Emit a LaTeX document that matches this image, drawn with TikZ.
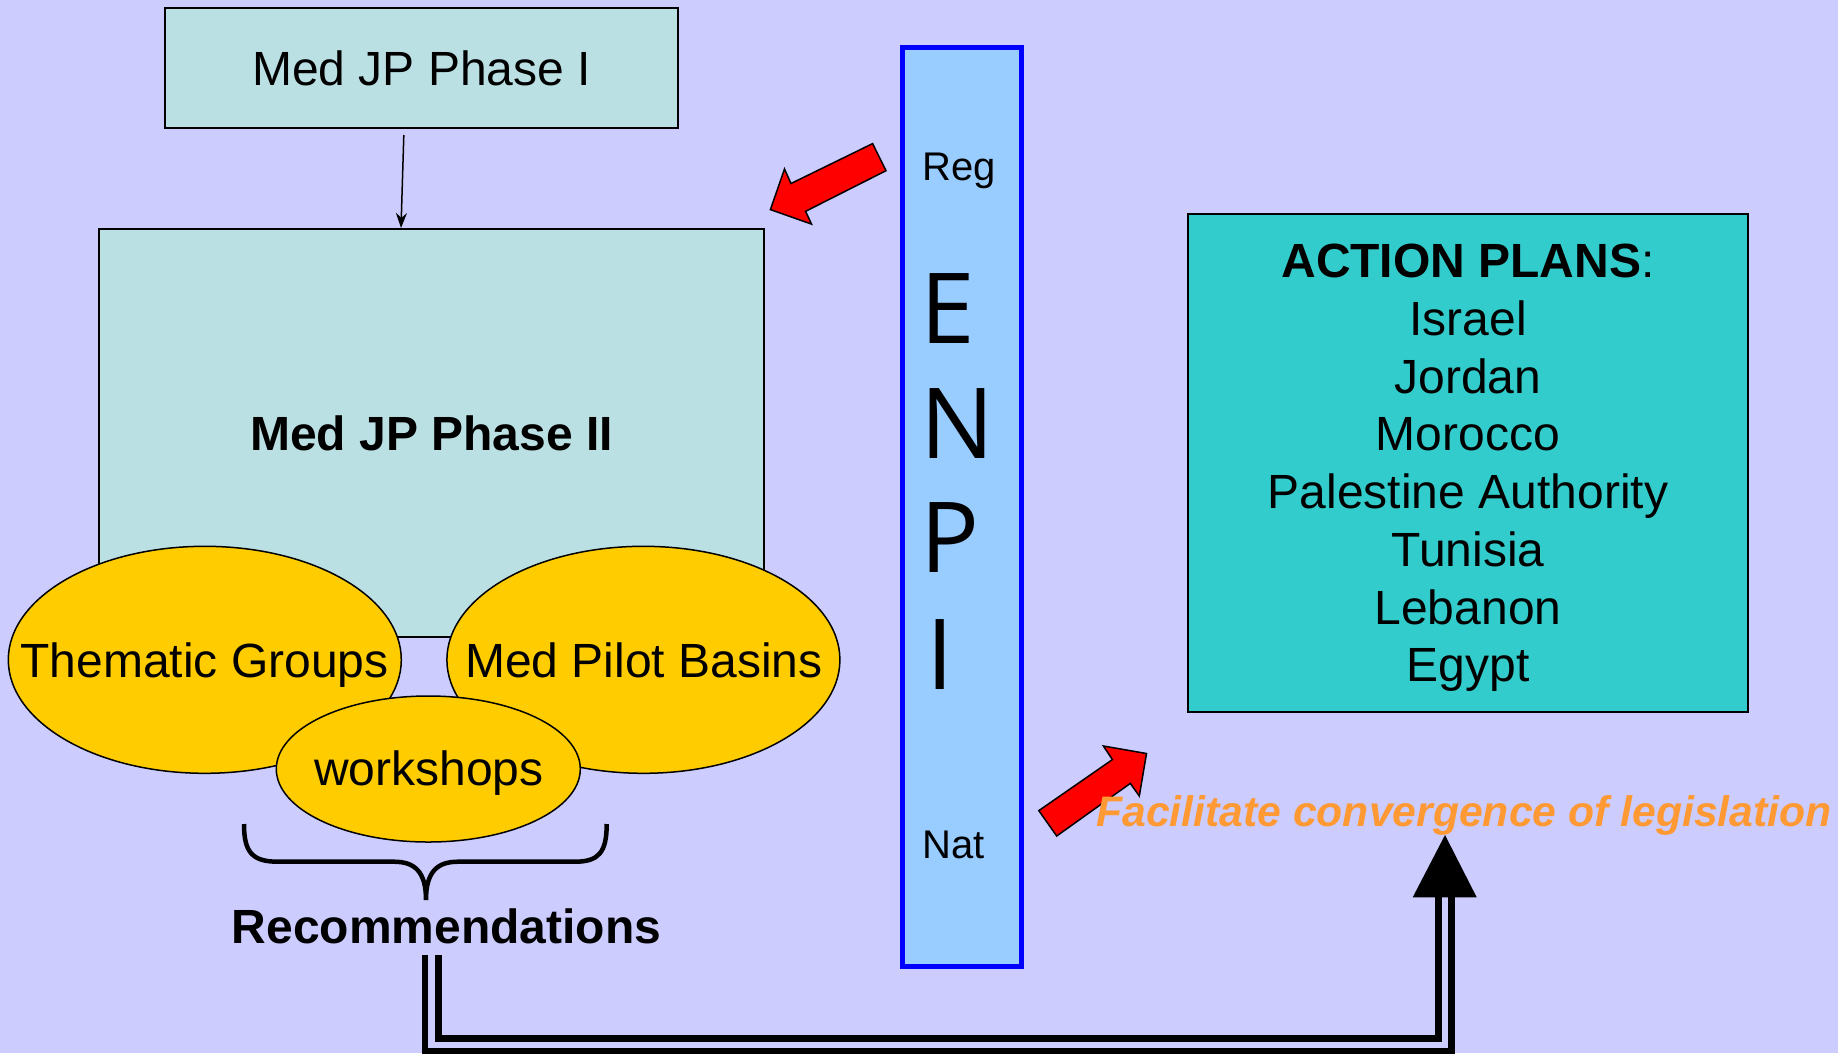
\documentclass[tikz,border=0pt]{standalone}
\usepackage{fontspec}
\setmainfont{Liberation Sans}
\newfontfamily\letterfont{Open Sans}
\usetikzlibrary{shapes.geometric,arrows.meta}
\definecolor{bg}{HTML}{CCCCFF}
\definecolor{phase}{HTML}{BBE0E3}
\definecolor{enpi}{HTML}{99CCFF}
\definecolor{plan}{HTML}{33CCCC}
\definecolor{gold}{HTML}{FFCC00}
\definecolor{orangetxt}{HTML}{FF9933}
\tikzset{
  phasebox/.style={draw=black, line width=2pt, fill=phase, inner sep=0pt},
  ell/.style={ellipse, draw=black, line width=1.5pt, fill=gold, inner sep=0pt},
  big/.style={font=\fontsize{48}{57.7}\selectfont},
  txt/.style={anchor=base, inner sep=0pt, big},
  enpibox/.style={draw=blue, line width=5pt, fill=enpi, inner sep=0pt},
  planbox/.style={draw=black, line width=2pt, fill=plan, inner sep=0pt, align=center, text depth=0pt},
  redarrow/.style={fill=red, draw=black, line width=1.5pt, line join=miter},
  bracestyle/.style={draw=black, line width=4.5pt},
  dbl/.style={draw=black, line width=6.7pt, double=bg, double distance=6.7pt, line join=miter},
  letter/.style={anchor=base west, inner sep=0pt, font=\fontsize{98}{110}\selectfont\letterfont},
  small/.style={anchor=base west, inner sep=0pt, font=\fontsize{40}{46}\selectfont}
}
\begin{document}
\begin{tikzpicture}[x=1pt,y=-1pt]
\useasboundingbox[fill=bg] (0,0) rectangle (1838,1053);

% Phase I and II
\node[phasebox, big, minimum width=513pt, minimum height=120pt] (p1) at (421.5,68) {Med JP Phase I};
\node[phasebox, big, font=\fontsize{48}{57.7}\selectfont\bfseries, minimum width=665pt, minimum height=408pt] (p2) at (431.5,433) {Med JP Phase II};
\draw[line width=1.5pt, -{Stealth[length=15pt,width=11pt]}, shorten <=6pt] ([xshift=-17.5pt]p1.south) -- ([xshift=-30.5pt]p2.north);

% ellipses
\node[ell, minimum width=393pt, minimum height=227pt] (tg) at (204.8,659.8) {};
\node[txt] (tgt) at (204.5,677.4) {Thematic Groups};
\node[ell, minimum width=393pt, minimum height=227pt] (mpb) at (643.4,659.8) {};
\node[txt] (mpbt) at (644,677.4) {Med Pilot Basins};
\node[ell, minimum width=304pt, minimum height=146pt] (ws) at (428.3,769) {};
\node[txt] (wst) at (429,785) {workshops};

% brace
\draw[bracestyle] (244,824) .. controls (244,852) and (252,861.7) .. (278,861.7) -- (394,861.7) .. controls (415,861.7) and (426,872) .. (426,900) .. controls (426,872) and (437,861.7) .. (458,861.7) -- (575,861.7) .. controls (599,861.7) and (606.7,852) .. (606.7,824);
\node[anchor=base, inner sep=0pt, font=\fontsize{48}{57.7}\selectfont\bfseries] (rec) at (446.5,943.2) {Recommendations};

% ENPI bar
\node[enpibox, minimum width=119pt, minimum height=918.5pt] (enpi) at (961.5,506.75) {};
\node[small] (reg) at (922,180) {Reg};
\node[letter] (le) at (920.5,343) {E};
\node[letter] (ln) at (920.5,458) {N};
\node[letter] (lp) at (920.5,572.7) {P};
\node[letter] (li) at (926.5,689) {I};
\node[small] (nat) at (922,858) {Nat};

% red block arrows
\draw[redarrow] (872.6,143.6) -- (791,183.5) -- (784.5,169) -- (770.4,209.6) -- (811.5,224.1) -- (805.6,211.3) -- (886,170.7) -- cycle;
\draw[redarrow] (1038.8,810.6) -- (1112.4,759.6) -- (1103.4,746) -- (1146.5,753.5) -- (1139.3,796) -- (1130.3,783.4) -- (1056.7,836) -- cycle;

% action plans
\node[planbox, big, minimum width=560pt, minimum height=498.5pt] (ap) at (1468,463) {\textbf{ACTION PLANS}:\\Israel\\Jordan\\Morocco\\Palestine Authority\\Tunisia\\Lebanon\\Egypt};

% facilitate text
\node[anchor=base, inner sep=0pt, text=orangetxt, font=\fontsize{42.7}{50}\selectfont\bfseries\itshape] (fac) at (1464,826) {Facilitate convergence of legislation};

% double connector
\coordinate (r0) at (431.7,955);
\coordinate (c1) at (431.7,1045);
\coordinate (c2) at (1445,1045);
\coordinate (a0) at (1445,897.3);
\coordinate (tip) at (1445,835);
\draw[dbl] (r0) -- (c1) -- (c2) -- (a0);
\fill[black] (tip) -- ([xshift=31.7pt]a0) -- ([xshift=-32.3pt]a0) -- cycle;
\end{tikzpicture}
\end{document}
